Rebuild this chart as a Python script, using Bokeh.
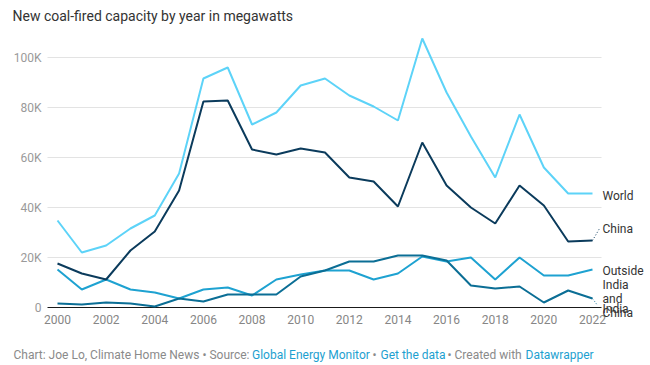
from bokeh.plotting import figure
from bokeh.models import Range1d, FixedTicker, Label
from bokeh.embed import file_html
from bokeh.resources import INLINE

# ---------------- data ----------------
years = list(range(2000, 2023))
world = [34.8, 22.0, 24.8, 31.6, 36.8, 53.6, 91.6, 96.0, 73.2, 78.0, 88.8, 91.6,
         84.8, 80.4, 74.8, 107.6, 86.0, 68.4, 52.0, 77.2, 56.0, 45.6, 45.6]
china = [17.6, 13.6, 11.2, 22.8, 30.4, 46.8, 82.4, 82.8, 63.2, 61.2, 63.6, 62.0,
         52.0, 50.4, 40.4, 66.0, 48.8, 40.0, 33.6, 48.8, 40.8, 26.4, 26.8]
outside = [15.2, 7.2, 11.2, 7.2, 6.0, 3.6, 7.2, 8.0, 4.8, 11.2, 13.2, 14.8,
           14.8, 11.2, 13.6, 20.4, 18.4, 20.0, 11.2, 20.0, 12.8, 12.8, 15.2]
india = [1.6, 1.2, 2.0, 1.6, 0.4, 3.6, 2.4, 5.2, 5.2, 5.2, 12.4, 14.8,
         18.4, 18.4, 20.8, 20.8, 18.8, 8.8, 7.6, 8.4, 2.0, 6.8, 3.6]
world = [v * 1000 for v in world]
china = [v * 1000 for v in china]
outside = [v * 1000 for v in outside]
india = [v * 1000 for v in india]

y_tick_values = [0, 20000, 40000, 60000, 80000, 100000]
y_tick_labels = ["0", "20K", "40K", "60K", "80K", "100K"]
x_tick_values = list(range(2000, 2023, 2))

title_text = "New coal-fired capacity by year in megawatts"
series_names = ["World", "China", "Outside India and China", "India"]

# ---------------- layout / style ----------------
FONT = "Roboto"
W, H = 650, 365
PX_PER_YEAR = 24.318
PX_PER_UNIT = 2.5 / 1000.0
X_ORIGIN_PX, Y_ZERO_PX = 57, 307
X0 = 2000 - X_ORIGIN_PX / PX_PER_YEAR
X1 = 2000 + (W - X_ORIGIN_PX) / PX_PER_YEAR
Y1 = Y_ZERO_PX / PX_PER_UNIT
Y0 = -(H - Y_ZERO_PX) / PX_PER_UNIT
PLOT_L = 2000 - 10 / PX_PER_YEAR      # left end of grid lines
PLOT_R = 2000 + 544 / PX_PER_YEAR     # right end of grid lines
AXIS_Y = -3 / PX_PER_UNIT             # where x labels hang from

p = figure(width=W, height=H, output_backend="svg", toolbar_location=None,
           x_range=Range1d(X0, X1), y_range=Range1d(Y0, Y1),
           min_border=0, min_border_left=0, min_border_right=0,
           min_border_top=0, min_border_bottom=0)
p.outline_line_color = None
p.background_fill_color = "white"
p.border_fill_color = "white"
p.xgrid.visible = False
p.ygrid.visible = False

p.yaxis.ticker = FixedTicker(ticks=y_tick_values)
p.yaxis.major_label_overrides = {v: l for v, l in zip(y_tick_values, y_tick_labels)}
p.xaxis.ticker = FixedTicker(ticks=x_tick_values)
p.yaxis.fixed_location = PLOT_L
p.xaxis.fixed_location = AXIS_Y

for ax in (p.xaxis[0], p.yaxis[0]):
    ax.axis_line_color = None
    ax.major_tick_line_color = None
    ax.minor_tick_line_color = None
    ax.major_tick_out = 0
    ax.major_tick_in = 0
    ax.minor_tick_out = 0
    ax.minor_tick_in = 0
    ax.major_label_text_font = FONT
    ax.major_label_text_font_size = "12px"
p.yaxis.major_label_text_color = "#9a9a9a"
p.xaxis.major_label_text_color = "#868686"
p.yaxis.major_label_standoff = 6
p.xaxis.major_label_standoff = 4

# grid lines and zero line
grid_vals = y_tick_values[1:]
p.segment(x0=[PLOT_L] * len(grid_vals), x1=[PLOT_R] * len(grid_vals),
          y0=grid_vals, y1=grid_vals, line_color="#e3e3e3", line_width=1)
p.segment(x0=[PLOT_L], x1=[PLOT_R], y0=[0], y1=[0], line_color="#1a1a1a", line_width=1)

c_world = "#5dd3f8"
c_china = "#0b3b5c"
c_out = "#1ea2d1"
c_india = "#0b6e95"

p.line(years, outside, line_color=c_out, line_width=2)
p.line(years, india, line_color=c_india, line_width=2)
p.line(years, china, line_color=c_china, line_width=2)
p.line(years, world, line_color=c_world, line_width=2)

# leader lines for end labels
china_label_y = 31600
india_label_y = 800
p.line([years[-1], years[-1] + 0.29], [china[-1], china_label_y],
       line_color=c_china, line_width=1, line_dash="1 2")
p.line([years[-1], years[-1] + 0.21], [india[-1], india_label_y],
       line_color=c_india, line_width=1, line_dash="1 2")

def lab(x, y, text, xo=0, yo=0, color="#333333", size="12px", align="left", baseline="middle"):
    p.add_layout(Label(x=x, y=y, text=text, x_offset=xo, y_offset=yo,
                       text_color=color, text_font=FONT, text_font_size=size,
                       text_align=align, text_baseline=baseline))

lx = years[-1]
lab(lx, world[-1], series_names[0], xo=10, yo=-2)
lab(lx, china_label_y, series_names[1], xo=10, yo=0)
lab(lx, outside[-1], "Outside", xo=10, yo=-1)
lab(lx, outside[-1], "India", xo=10, yo=-15)
lab(lx, outside[-1], "and", xo=10, yo=-29)
lab(lx, outside[-1], "China", xo=10, yo=-43)
lab(lx, 0, series_names[3], xo=10, yo=-1)

# title
lab(X0, Y1, title_text, xo=12, yo=-15, size="14px", color="#333333")

# footer
gray = "#8a8a8a"
blue = "#1d9fd0"
fy = 11
lab(X0, Y0, "Chart: Joe Lo, Climate Home News \u2022 Source:", xo=13, yo=fy, color=gray)
lab(X0, Y0, "Global Energy Monitor", xo=251.5, yo=fy, color=blue)
lab(X0, Y0, "\u2022", xo=374, yo=fy, color=gray, align="center")
lab(X0, Y0, "Get the data", xo=380, yo=fy, color=blue)
lab(X0, Y0, "\u2022", xo=449, yo=fy, color=gray, align="center")
lab(X0, Y0, "Created with", xo=454, yo=fy, color=gray)
lab(X0, Y0, "Datawrapper", xo=525, yo=fy, color=blue)

open("out.html", "w").write(file_html(p, INLINE))
